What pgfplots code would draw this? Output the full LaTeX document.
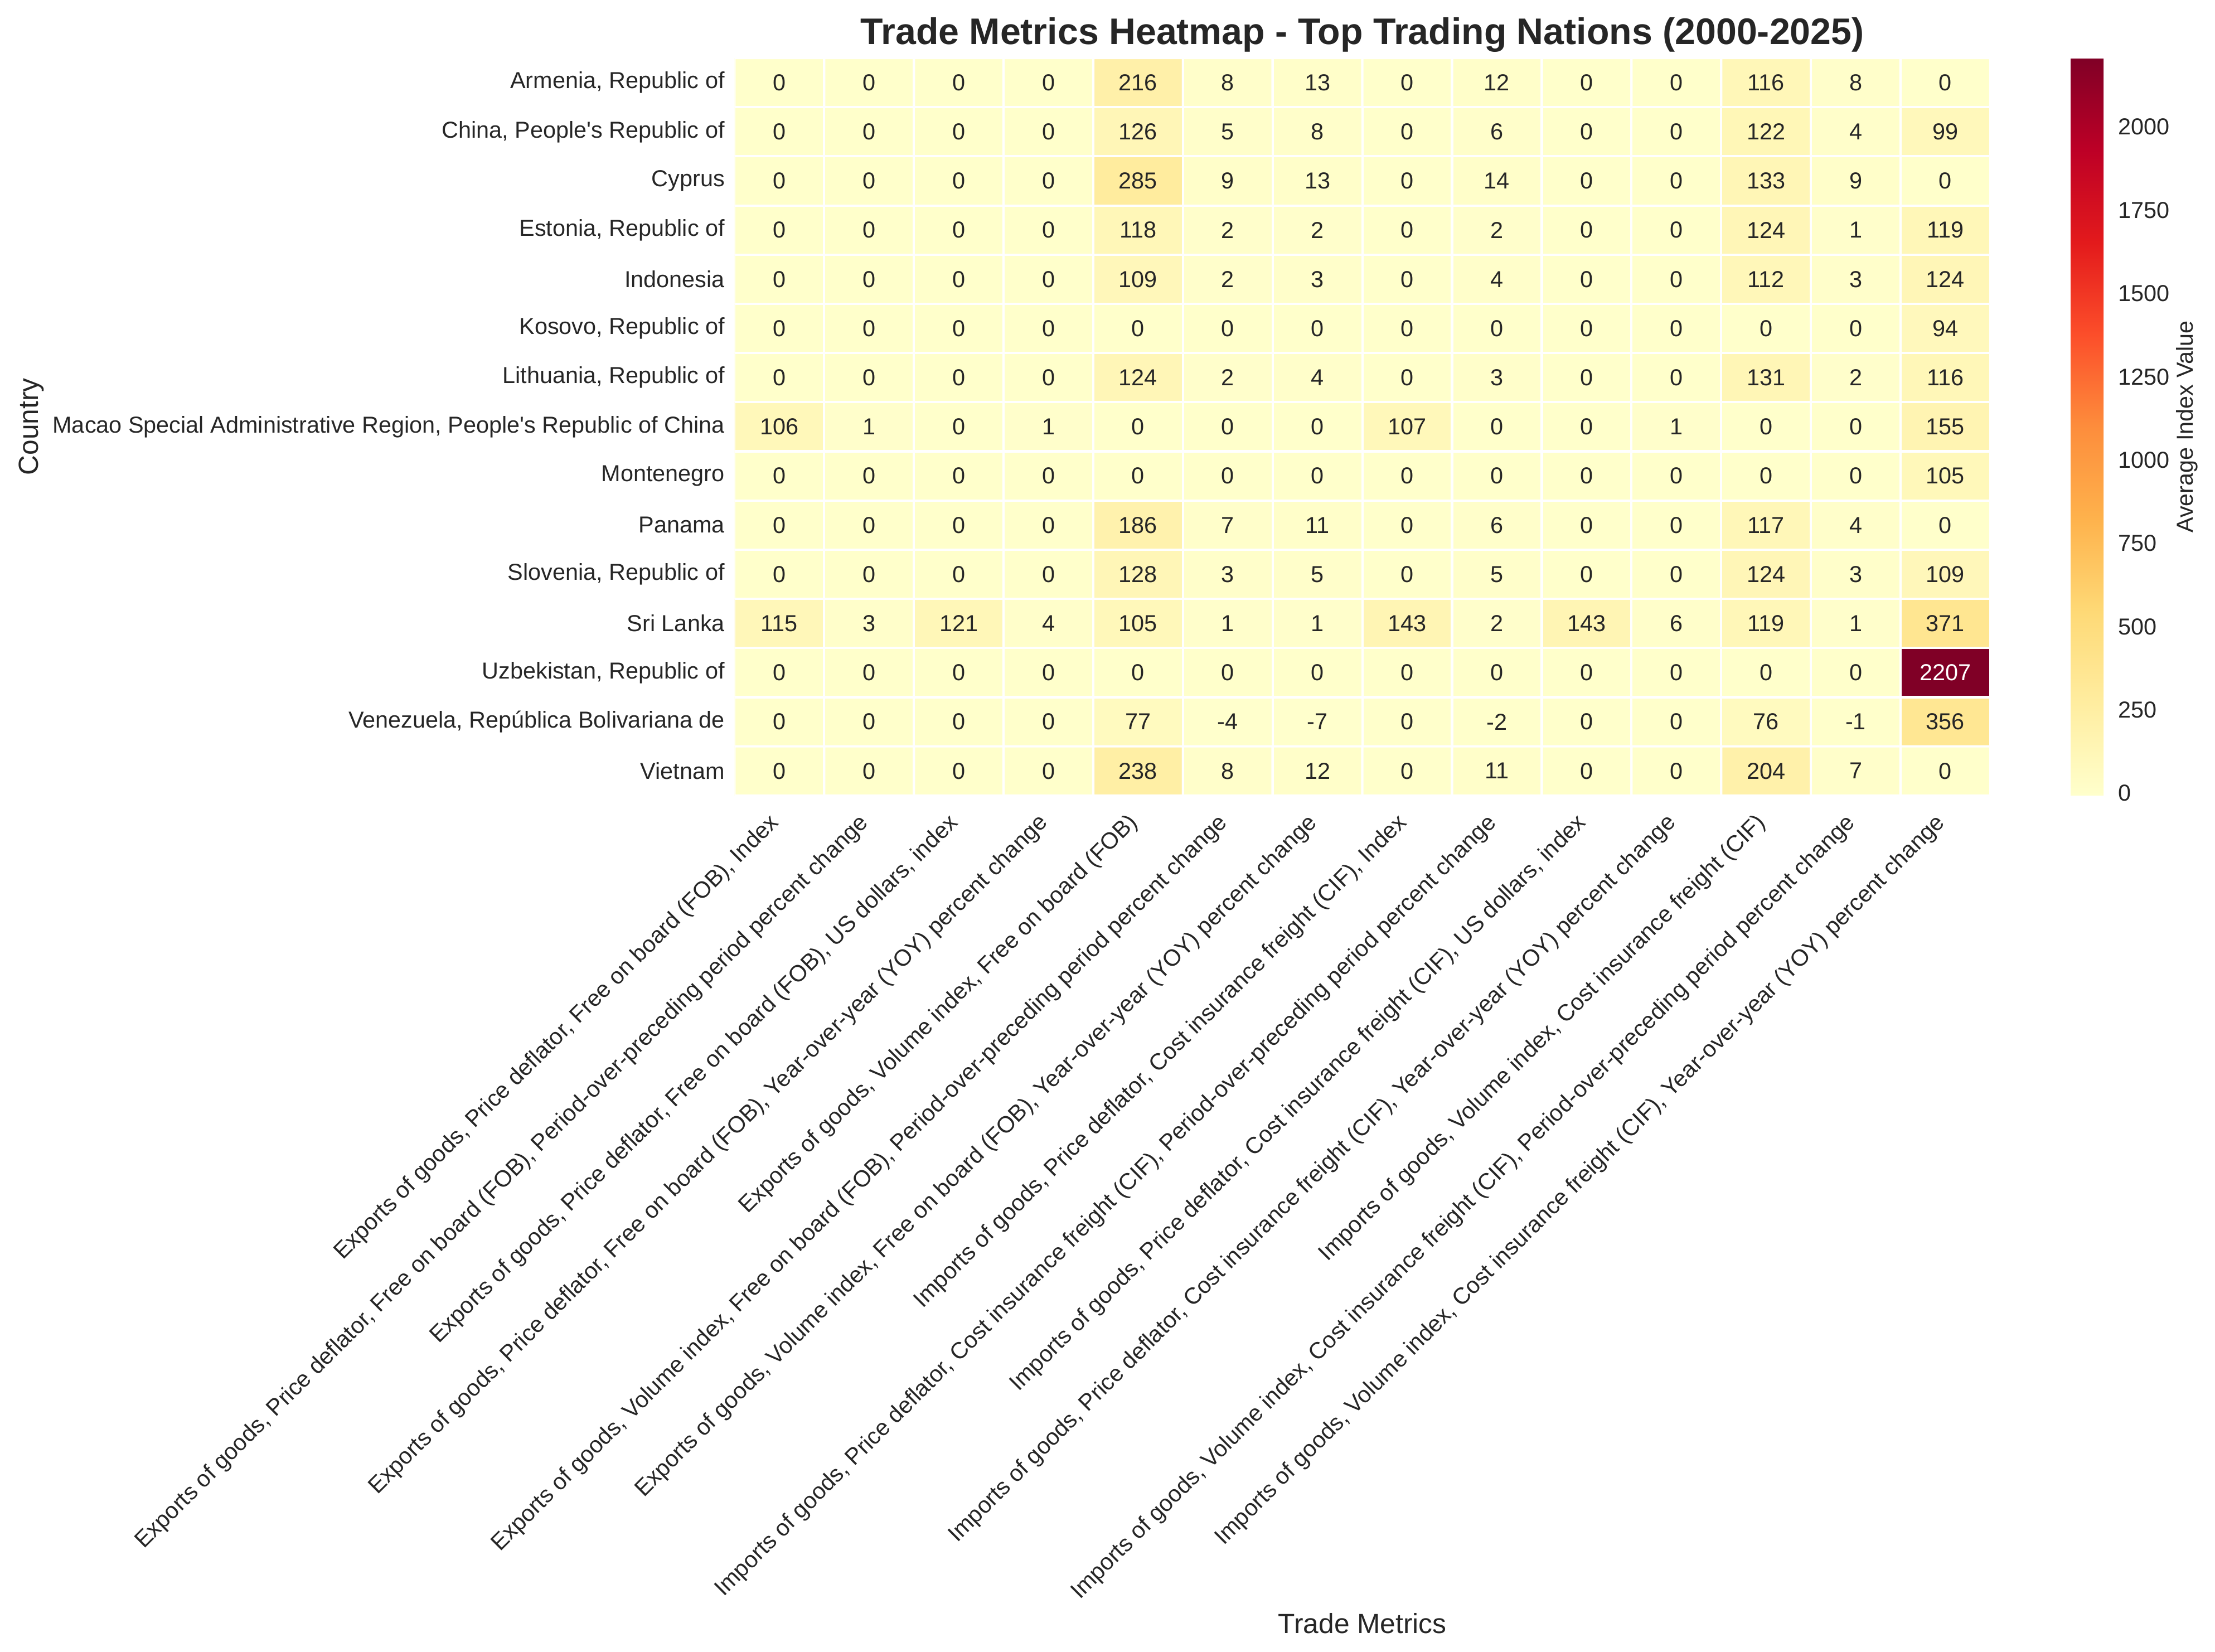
\documentclass[border=0pt]{standalone}
\usepackage{fontspec}
\setmainfont{Liberation Sans}
\usepackage{pgfplots}
\usepackage{pgfplotstable}
\pgfplotsset{compat=1.18}
\pgfplotsset{/pgf/number format/1000 sep={}, /pgf/number format/assume math mode=true}
\definecolor{txt}{RGB}{38,38,38}
\pgfplotstableread{
x y v
0 0 0
1 0 0
2 0 0
3 0 0
4 0 216
5 0 8
6 0 13
7 0 0
8 0 12
9 0 0
10 0 0
11 0 116
12 0 8
13 0 0
0 1 0
1 1 0
2 1 0
3 1 0
4 1 126
5 1 5
6 1 8
7 1 0
8 1 6
9 1 0
10 1 0
11 1 122
12 1 4
13 1 99
0 2 0
1 2 0
2 2 0
3 2 0
4 2 285
5 2 9
6 2 13
7 2 0
8 2 14
9 2 0
10 2 0
11 2 133
12 2 9
13 2 0
0 3 0
1 3 0
2 3 0
3 3 0
4 3 118
5 3 2
6 3 2
7 3 0
8 3 2
9 3 0
10 3 0
11 3 124
12 3 1
13 3 119
0 4 0
1 4 0
2 4 0
3 4 0
4 4 109
5 4 2
6 4 3
7 4 0
8 4 4
9 4 0
10 4 0
11 4 112
12 4 3
13 4 124
0 5 0
1 5 0
2 5 0
3 5 0
4 5 0
5 5 0
6 5 0
7 5 0
8 5 0
9 5 0
10 5 0
11 5 0
12 5 0
13 5 94
0 6 0
1 6 0
2 6 0
3 6 0
4 6 124
5 6 2
6 6 4
7 6 0
8 6 3
9 6 0
10 6 0
11 6 131
12 6 2
13 6 116
0 7 106
1 7 1
2 7 0
3 7 1
4 7 0
5 7 0
6 7 0
7 7 107
8 7 0
9 7 0
10 7 1
11 7 0
12 7 0
13 7 155
0 8 0
1 8 0
2 8 0
3 8 0
4 8 0
5 8 0
6 8 0
7 8 0
8 8 0
9 8 0
10 8 0
11 8 0
12 8 0
13 8 105
0 9 0
1 9 0
2 9 0
3 9 0
4 9 186
5 9 7
6 9 11
7 9 0
8 9 6
9 9 0
10 9 0
11 9 117
12 9 4
13 9 0
0 10 0
1 10 0
2 10 0
3 10 0
4 10 128
5 10 3
6 10 5
7 10 0
8 10 5
9 10 0
10 10 0
11 10 124
12 10 3
13 10 109
0 11 115
1 11 3
2 11 121
3 11 4
4 11 105
5 11 1
6 11 1
7 11 143
8 11 2
9 11 143
10 11 6
11 11 119
12 11 1
13 11 371
0 12 0
1 12 0
2 12 0
3 12 0
4 12 0
5 12 0
6 12 0
7 12 0
8 12 0
9 12 0
10 12 0
11 12 0
12 12 0
13 12 2207
0 13 0
1 13 0
2 13 0
3 13 0
4 13 77
5 13 -4
6 13 -7
7 13 0
8 13 -2
9 13 0
10 13 0
11 13 76
12 13 -1
13 13 356
0 14 0
1 14 0
2 14 0
3 14 0
4 14 238
5 14 8
6 14 12
7 14 0
8 14 11
9 14 0
10 14 0
11 14 204
12 14 7
13 14 0
}\heatdata
\begin{document}
\begin{tikzpicture}
\path[use as bounding box] (-318pt,-370.7pt) rectangle (641pt,344.4pt);
\begin{axis}[
  at={(0pt,0pt)}, anchor=south west,
  scale only axis, width=543.7pt, height=319.3pt,
  xmin=-0.5, xmax=13.5, ymin=-0.5, ymax=14.5,
  y dir=reverse,
  enlargelimits=false,
  axis line style={draw=none},
  tick style={draw=none},
  major tick length=0pt,
  colormap={ylorrd}{rgb255=(255,255,204) rgb255=(255,237,160) rgb255=(254,217,118) rgb255=(254,178,76) rgb255=(253,141,60) rgb255=(252,78,42) rgb255=(227,26,28) rgb255=(189,0,38) rgb255=(128,0,38)},
  point meta min=-7, point meta max=2207,
  colorbar,
  colorbar style={
    at={(parent axis.north east)}, anchor=north west, xshift=26.3pt,
    scale only axis, width=16.1pt, height=319.3pt,
    axis line style={draw=none}, tick style={draw=none}, major tick length=0pt,
    ytick={0,250,...,2000},
    yticklabel style={font=\fontsize{10}{12}\selectfont, text=txt, xshift=1pt},
    ylabel={Average Index Value},
    ylabel style={at={(axis description cs:3.13,0.5)}, anchor=center, font=\fontsize{10}{12}\selectfont, text=txt},
  },
  xtick={0,...,13},
  ytick={0,...,14},
  xticklabels={
    {Exports of goods, Price deflator, Free on board (FOB), Index},
    {Exports of goods, Price deflator, Free on board (FOB), Period-over-preceding period percent change},
    {Exports of goods, Price deflator, Free on board (FOB), US dollars, index},
    {Exports of goods, Price deflator, Free on board (FOB), Year-over-year (YOY) percent change},
    {Exports of goods, Volume index, Free on board (FOB)},
    {Exports of goods, Volume index, Free on board (FOB), Period-over-preceding period percent change},
    {Exports of goods, Volume index, Free on board (FOB), Year-over-year (YOY) percent change},
    {Imports of goods, Price deflator, Cost insurance freight (CIF), Index},
    {Imports of goods, Price deflator, Cost insurance freight (CIF), Period-over-preceding period percent change},
    {Imports of goods, Price deflator, Cost insurance freight (CIF), US dollars, index},
    {Imports of goods, Price deflator, Cost insurance freight (CIF), Year-over-year (YOY) percent change},
    {Imports of goods, Volume index, Cost insurance freight (CIF)},
    {Imports of goods, Volume index, Cost insurance freight (CIF), Period-over-preceding period percent change},
    {Imports of goods, Volume index, Cost insurance freight (CIF), Year-over-year (YOY) percent change}
  },
  yticklabels={
    {Armenia, Republic of},
    {China, People\textquotesingle s Republic of},
    {Cyprus},
    {Estonia, Republic of},
    {Indonesia},
    {Kosovo, Republic of},
    {Lithuania, Republic of},
    {Macao Special Administrative Region, People\textquotesingle s Republic of China},
    {Montenegro},
    {Panama},
    {Slovenia, Republic of},
    {Sri Lanka},
    {Uzbekistan, Republic of},
    {Venezuela, República Bolivariana de},
    {Vietnam}
  },
  xticklabel style={rotate=45, anchor=north east, font=\fontsize{10}{12}\selectfont, text=txt, xshift=-5pt, yshift=2pt},
  yticklabel style={font=\fontsize{10}{12}\selectfont, text=txt, xshift=-0.7pt},
  title={Trade Metrics Heatmap - Top Trading Nations (2000-2025)},
  title style={at={(axis description cs:0.5,1)}, anchor=base, yshift=0pt, font=\bfseries\fontsize{16}{19}\selectfont, text=txt},
  xlabel={Trade Metrics},
  xlabel style={at={(axis description cs:0.5,-1.1225)}, anchor=center, font=\fontsize{12}{14}\selectfont, text=txt},
  ylabel={Country},
  ylabel style={at={(axis description cs:-0.560,0.5)}, anchor=center, font=\fontsize{12}{14}\selectfont, text=txt},
]
\addplot[matrix plot, mesh/cols=14, point meta=explicit, faceted color=white, draw=white, line width=1pt]
  table[x=x, y=y, meta=v]{\heatdata};
\addplot[only marks, mark=none, point meta=explicit,
  skip coords between index={181}{182},
  nodes near coords, nodes near coords align=center,
  every node near coord/.append style={font=\fontsize{10}{12}\selectfont, text=txt, anchor=center,
    /pgf/number format/fixed, /pgf/number format/precision=0}]
  table[x=x, y=y, meta=v]{\heatdata};
\addplot[only marks, mark=none, point meta=explicit,
  skip coords between index={0}{181},
  skip coords between index={182}{210},
  nodes near coords, nodes near coords align=center,
  every node near coord/.append style={font=\fontsize{10}{12}\selectfont, text=white, anchor=center,
    /pgf/number format/fixed, /pgf/number format/precision=0}]
  table[x=x, y=y, meta=v]{\heatdata};
\end{axis}
\end{tikzpicture}
\end{document}
